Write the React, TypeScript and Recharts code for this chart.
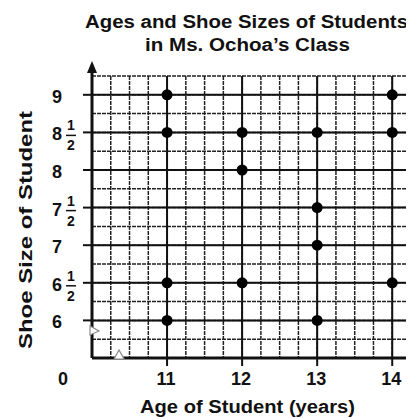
import React from "react";
import {
  ScatterChart,
  Scatter,
  XAxis,
  YAxis,
  CartesianGrid,
  ReferenceLine,
  ReferenceDot,
} from "recharts";

// ---- data ----
const ages = [11, 11, 11, 11, 12, 12, 12, 13, 13, 13, 13, 14, 14, 14];
const shoeSizes = [9, 8.5, 6.5, 6, 8.5, 8, 6.5, 8.5, 7.5, 7, 6, 9, 8.5, 6.5];

const xTicks = [10, 11, 12, 13, 14];
const xTickLabels = ["0", "11", "12", "13", "14"];
const yTicks = [6, 6.5, 7, 7.5, 8, 8.5, 9];
const yTickWhole = ["6", "6", "7", "7", "8", "8", "9"];
const yTickFrac = [false, true, false, true, false, true, false];

const gridX = [10.25, 10.5, 10.75, 11, 11.25, 11.5, 11.75, 12, 12.25, 12.5, 12.75, 13, 13.25, 13.5, 13.75, 14, 14.25];
const gridY = [5.75, 6, 6.25, 6.5, 6.75, 7, 7.25, 7.5, 7.75, 8, 8.25, 8.5, 8.75, 9, 9.25];

const xDomain = [10, 14.25];
const yDomain = [5.5, 9.25];

const title1 = "Ages and Shoe Sizes of Students";
const title2 = "in Ms. Ochoa\u2019s Class";
const xLabel = "Age of Student (years)";
const yLabel = "Shoe Size of Student";

const data = ages.map((a, i) => ({ age: a, size: shoeSizes[i] }));

const FONT = "'Liberation Sans', Arial, Helvetica, sans-serif";
const INK = "#111";

const XTick = (props: any) => {
  const { x, y, payload } = props;
  const idx = xTicks.indexOf(payload.value);
  const label = idx >= 0 ? xTickLabels[idx] : String(payload.value);
  if (payload.value === 10) {
    return (
      <text x={x - 29} y={y + 27} textAnchor="middle" fontFamily={FONT} fontWeight="bold" fontSize={18} fill={INK}>
        {label}
      </text>
    );
  }
  return (
    <g>
      <line x1={x} y1={y} x2={x} y2={y + 8} stroke={INK} strokeWidth={2} />
      <text x={x - 1} y={y + 27} textAnchor="middle" fontFamily={FONT} fontWeight="bold" fontSize={18} fill={INK}>
        {label}
      </text>
    </g>
  );
};

const YTick = (props: any) => {
  const { x, y, payload } = props;
  const idx = yTicks.indexOf(payload.value);
  const whole = idx >= 0 ? yTickWhole[idx] : String(payload.value);
  const frac = idx >= 0 ? yTickFrac[idx] : false;
  return (
    <g>
      <line x1={x - 9} y1={y} x2={x} y2={y} stroke={INK} strokeWidth={2} />
      <text x={x - 35} y={y + 8} textAnchor="middle" fontFamily={FONT} fontWeight="bold" fontSize={18} fill={INK}>
        {whole}
      </text>
      {frac && (
        <g>
          <text x={x - 21} y={y - 2} textAnchor="middle" fontFamily={FONT} fontWeight="bold" fontSize={14} fill={INK}>
            1
          </text>
          <line x1={x - 26} y1={y + 3} x2={x - 16} y2={y + 3} stroke={INK} strokeWidth={1.5} />
          <text x={x - 21} y={y + 18} textAnchor="middle" fontFamily={FONT} fontWeight="bold" fontSize={14} fill={INK}>
            2
          </text>
        </g>
      )}
    </g>
  );
};

const Dot = (props: any) => {
  const { cx, cy } = props;
  return <circle cx={cx} cy={cy} r={5.5} fill="#000" />;
};

const ArrowUp = (props: any) => {
  const { cx, cy } = props;
  return (
    <g>
      <line x1={cx} y1={cy} x2={cx} y2={cy - 6} stroke={INK} strokeWidth={3} />
      <path d={`M ${cx} ${cy - 15} L ${cx - 5} ${cy - 3} L ${cx + 5} ${cy - 3} Z`} fill={INK} />
    </g>
  );
};

const BreakY = (props: any) => {
  const { cx, cy } = props;
  return (
    <path
      d={`M ${cx - 2} ${cy - 5} L ${cx + 7} ${cy} L ${cx - 2} ${cy + 4} Z`}
      fill="#fff"
      stroke="#888"
      strokeWidth={1.2}
    />
  );
};

const BreakX = (props: any) => {
  const { cx, cy } = props;
  return (
    <path
      d={`M ${cx - 5} ${cy + 1} L ${cx} ${cy - 8} L ${cx + 5} ${cy + 1} Z`}
      fill="#fff"
      stroke="#888"
      strokeWidth={1.2}
    />
  );
};

export default function App() {
  return (
    <div
      style={{
        position: "relative",
        width: 414,
        height: 418,
        margin: "-8px 0 0 -8px",
        background: "#fff",
        overflow: "hidden",
      }}
    >
      <ScatterChart width={414} height={418} margin={{ top: 76, right: 3, bottom: 59, left: 91 }}>
        <CartesianGrid
          horizontalValues={gridY}
          verticalValues={gridX}
          stroke="#222"
          strokeWidth={1.5}
          strokeDasharray="4 1"
        />
        {yTicks.map((v) => (
          <ReferenceLine key={"hy" + v} y={v} stroke={INK} strokeWidth={2} />
        ))}
        {xTicks
          .filter((v) => v !== 10)
          .map((v) => (
            <ReferenceLine key={"vx" + v} x={v} stroke={INK} strokeWidth={2} />
          ))}
        <XAxis
          type="number"
          dataKey="age"
          domain={xDomain}
          ticks={xTicks}
          height={1}
          tickSize={0}
          tickMargin={0}
          tickLine={false}
          tick={<XTick />}
          axisLine={{ stroke: INK, strokeWidth: 3 }}
          interval={0}
        />
        <YAxis
          type="number"
          dataKey="size"
          domain={yDomain}
          ticks={yTicks}
          width={1}
          tickSize={0}
          tickMargin={0}
          tickLine={false}
          tick={<YTick />}
          axisLine={{ stroke: INK, strokeWidth: 3 }}
          interval={0}
        />
        <ReferenceDot x={10} y={9.25} r={0} shape={<ArrowUp />} ifOverflow="visible" />
        <ReferenceDot x={10} y={5.86} r={0} shape={<BreakY />} ifOverflow="visible" />
        <ReferenceDot x={10.36} y={5.5} r={0} shape={<BreakX />} ifOverflow="visible" />
        <Scatter data={data} shape={<Dot />} isAnimationActive={false} />
      </ScatterChart>
      <svg
        width={414}
        height={418}
        style={{ position: "absolute", left: 0, top: 0, pointerEvents: "none" }}
      >
        <g fontFamily={FONT} fontWeight="bold" fill={INK} fontSize={18}>
          <text x={246.5} y={28} textAnchor="middle" textLength={323} lengthAdjust="spacingAndGlyphs">
            {title1}
          </text>
          <text x={247.5} y={51} textAnchor="middle" textLength={205} lengthAdjust="spacingAndGlyphs">
            {title2}
          </text>
          <text x={247.5} y={413} textAnchor="middle" textLength={215} lengthAdjust="spacingAndGlyphs">
            {xLabel}
          </text>
          <text
            transform="translate(32,230) rotate(-90)"
            textAnchor="middle"
            textLength={238}
            lengthAdjust="spacingAndGlyphs"
          >
            {yLabel}
          </text>
        </g>
      </svg>
    </div>
  );
}
